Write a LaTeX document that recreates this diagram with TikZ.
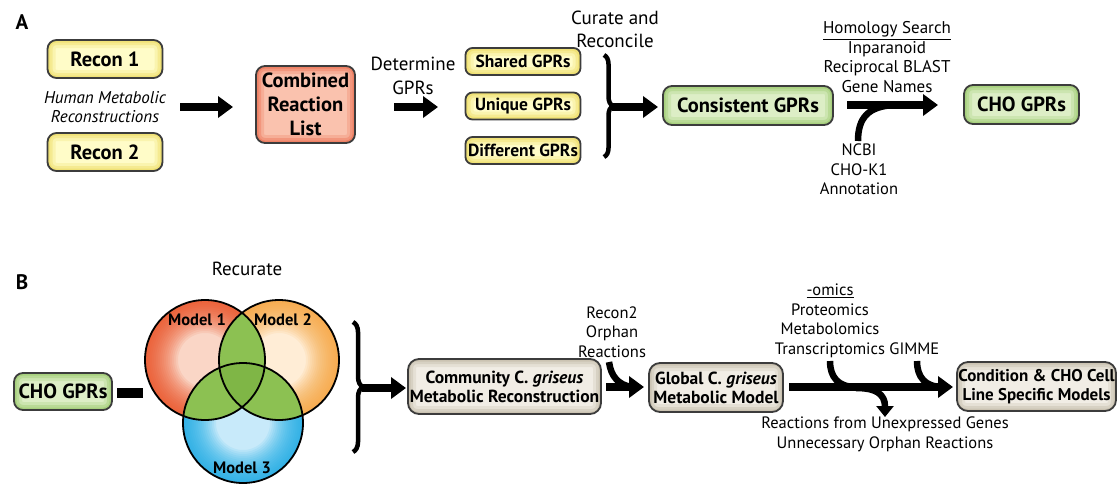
\documentclass[tikz,border=0pt]{standalone}
\usepackage{fontspec}
\setmainfont{PT Sans}
\usetikzlibrary{arrows.meta,decorations.pathreplacing,calc}
\definecolor{bord}{HTML}{3C3C3C}
\definecolor{yfill}{HTML}{FFFCC8}\definecolor{yedge}{HTML}{EEDD66}
\definecolor{sfill}{HTML}{FAC2AE}\definecolor{sedge}{HTML}{EC7356}
\definecolor{gfill}{HTML}{DDEEC6}\definecolor{gedge}{HTML}{9DCB70}
\definecolor{bfill}{HTML}{F1EDE5}\definecolor{bedge}{HTML}{C4BBA8}
\definecolor{mAl}{HTML}{FAD6C6}\definecolor{mAd}{HTML}{EC4A1C}
\definecolor{mBl}{HTML}{FFEDD6}\definecolor{mBd}{HTML}{F7A033}
\definecolor{mCl}{HTML}{C8EAFA}\definecolor{mCd}{HTML}{12A8E6}
\definecolor{lens}{HTML}{8CC152}\definecolor{lensc}{HTML}{7FB646}
\newcommand\myFbig{\bfseries\fontsize{20.5}{24}\selectfont}
\newcommand\myFmid{\bfseries\fontsize{17.5}{19}\selectfont}
\newcommand\myFlab{\fontsize{16.5}{19.5}\selectfont}
\tikzset{
  box/.style n args={2}{draw=bord, line width=1.8pt, fill=#1, rounded corners=9pt,
    align=center, inner sep=0pt,
    path picture={\foreach \w/\o in {16/0.25,10/0.4,5/0.6}{
      \draw[draw=#2, line width=\w pt, opacity=\o, rounded corners=9pt]
        (path picture bounding box.south west) rectangle (path picture bounding box.north east);}}},
  ybox/.style={box={yfill}{yedge}},
  sbox/.style={box={sfill}{sedge}},
  gbox/.style={box={gfill}{gedge}},
  bbox/.style={box={bfill}{bedge}},
  bigarrow/.style={line width=8pt, -{Triangle[length=15pt,width=21pt]}},
  thick curve/.style={line width=6.5pt},
  lab/.style={font=\myFlab, align=center, inner sep=0pt},
  curly/.style={line width=4.5pt, decorate, decoration={brace, amplitude=#1}},
  panel/.style={font=\bfseries\fontsize{21}{24}\selectfont, inner sep=0pt},
  mlabel/.style={font=\bfseries\fontsize{16.5}{18}\selectfont, inner sep=0pt},
  venn/.style n args={2}{circle, minimum size=120, inner sep=0pt, fill=#1,
    path picture={\foreach \w in {66,62,...,2}{
      \draw[draw=#2, line width=\w pt, opacity=0.09]
        (path picture bounding box.center) circle (60);}}}
}
\begin{document}
\begin{tikzpicture}[x=1pt,y=-1pt]
\useasboundingbox (0,0) rectangle (1118,483);
% ---------------- Panel A ----------------
\node[panel] (pA) at (22,22) {A};
\node[ybox, minimum width=115, minimum height=38, font=\myFbig] (r1) at (105,59) {Recon 1};
\node[ybox, minimum width=115, minimum height=38, font=\myFbig] (r2) at (105,152) {Recon 2};
\node[lab, font=\itshape\fontsize{17}{18.5}\selectfont] (hm) at (105,107) {Human Metabolic\\Reconstructions};
\node[sbox, minimum width=99, minimum height=77, font=\myFbig] (comb) at (305.5,104.5) {Combined\\Reaction\\List};
\coordinate (a1s) at (180,107); \coordinate (a1e) at (233,107);
\draw[bigarrow] (a1s) -- (a1e);
\node[lab, font=\fontsize{19}{24}\selectfont] (det) at (413,76) {Determine\\GPRs};
\coordinate (a2s) at (394,107); \coordinate (a2e) at (438,107);
\draw[bigarrow] (a2s) -- (a2e);
\node[ybox, minimum width=115, minimum height=27, font=\myFmid, rounded corners=7pt] (sh) at (523,61.5) {Shared GPRs};
\node[ybox, minimum width=115, minimum height=27, font=\myFmid, rounded corners=7pt] (un) at (523,106) {Unique GPRs};
\node[ybox, minimum width=115, minimum height=27, font=\myFmid, rounded corners=7pt] (df) at (523,150.5) {Different GPRs};
\node[lab, font=\fontsize{19}{23}\selectfont] (cur) at (615,29) {Curate and\\Reconcile};
\coordinate (brAt) at (604,55); \coordinate (brAb) at (604,157);
\draw[curly=9pt] (brAt) -- (brAb);
\coordinate (brAtip) at (612,107); \coordinate (a3e) at (658,107);
\draw[bigarrow] (brAtip) -- (a3e);
\node[gbox, minimum width=170, minimum height=39, font=\myFbig] (cons) at (748,105.5) {Consistent GPRs};
\node[lab, font=\fontsize{17}{19.5}\selectfont] (hom) at (887,57) {\underline{Homology Search}\\Inparanoid\\Reciprocal BLAST\\Gene Names};
\coordinate (a4s) at (847,105); \coordinate (a4e) at (938,105);
\draw[bigarrow] (a4s) -- (a4e);
\coordinate (ncbiTop) at (858,141); \coordinate (homJoin) at (895,105);
\draw[thick curve] (ncbiTop) .. controls (858,118) and (868,106) .. (homJoin);
\node[lab] (ncbi) at (859,169.5) {NCBI\\CHO-K1\\Annotation};
\node[gbox, minimum width=115, minimum height=39, font=\myFbig] (choA) at (1021.5,104.5) {CHO GPRs};
% ---------------- Panel B ----------------
\node[panel] (pB) at (22,282) {B};
\node[lab, font=\fontsize{19}{22}\selectfont] (recur) at (247,269) {Recurate};
\node[gbox, minimum width=98, minimum height=37, font=\myFbig] (choB) at (63,391.5) {CHO GPRs};
\coordinate (bar1) at (117,393); \coordinate (bar2) at (143,393);
\draw[line width=10pt] (bar1) -- (bar2);
% Venn
\node[venn={mAl}{mAd}] (m1) at (205,360) {};
\node[venn={mBl}{mBd}] (m2) at (279,360) {};
\node[venn={mCl}{mCd}] (m3) at (243,423) {};
\begin{scope}
  \clip (m1.center) circle (60);
  \fill[lens] (m2.center) circle (60);
  \fill[lens] (m3.center) circle (60);
\end{scope}
\begin{scope}
  \clip (m2.center) circle (60);
  \fill[lens] (m3.center) circle (60);
\end{scope}
\begin{scope}
  \clip (m1.center) circle (60);
  \clip (m2.center) circle (60);
  \fill[lensc] (m3.center) circle (60);
\end{scope}
\draw[line width=1.8pt] (m1.center) circle (60);
\draw[line width=1.8pt] (m2.center) circle (60);
\draw[line width=1.8pt] (m3.center) circle (60);
\node[mlabel] (m1l) at (197,320) {Model 1};
\node[mlabel] (m2l) at (283,320) {Model 2};
\node[mlabel] (m3l) at (242,468) {Model 3};
\coordinate (brBt) at (353,322); \coordinate (brBb) at (353,452);
\draw[curly=10pt] (brBt) -- (brBb);
\coordinate (brBtip) at (362,388); \coordinate (b1e) at (406,388);
\draw[bigarrow] (brBtip) -- (b1e);
\node[bbox, minimum width=193, minimum height=55, font=\myFmid, rounded corners=11pt] (comm) at (504.5,386.5) {Community C. \textit{griseus}\\Metabolic Reconstruction};
\node[lab] (orph) at (612,332) {Recon2\\Orphan\\Reactions};
\coordinate (b2s) at (606,387); \coordinate (b2e) at (644,387);
\draw[bigarrow] (b2s) -- (b2e);
\coordinate (orphTop) at (609,362); \coordinate (orphJoin) at (632,387);
\draw[thick curve] (orphTop) .. controls (611,376) and (618,385) .. (orphJoin);
\node[bbox, minimum width=134, minimum height=49, font=\myFmid, rounded corners=11pt] (glob) at (716,387.5) {Global C. \textit{griseus}\\Metabolic Model};
\node[lab] (omics) at (830,321) {\underline{-omics}\\Proteomics\\Metabolomics\\Transcriptomics\rlap{\ GIMME}};
\coordinate (b3s) at (789,387); \coordinate (b3e) at (953,387);
\draw[bigarrow] (b3s) -- (b3e);
\coordinate (omA) at (830,361); \coordinate (omAj) at (856,387);
\draw[thick curve] (omA) .. controls (830,377) and (838,387) .. (omAj);
\coordinate (omB) at (917,361); \coordinate (omBj) at (943,387);
\draw[thick curve] (omB) .. controls (917,377) and (925,387) .. (omBj);
\coordinate (brOut) at (856,388); \coordinate (brOutE) at (885,417);
\draw[line width=6.5pt, -{Triangle[length=11pt,width=17pt]}] (brOut) .. controls (876,388) and (885,394) .. (brOutE);
\node[lab] (unexp) at (885,434.5) {Reactions from Unexpressed Genes\\Unnecessary Orphan Reactions};
\node[bbox, minimum width=159, minimum height=49, font=\bfseries\fontsize{17}{19}\selectfont, rounded corners=11pt] (cond) at (1036.5,386.5) {Condition \& CHO Cell\\Line Specific Models};
\end{tikzpicture}
\end{document}
